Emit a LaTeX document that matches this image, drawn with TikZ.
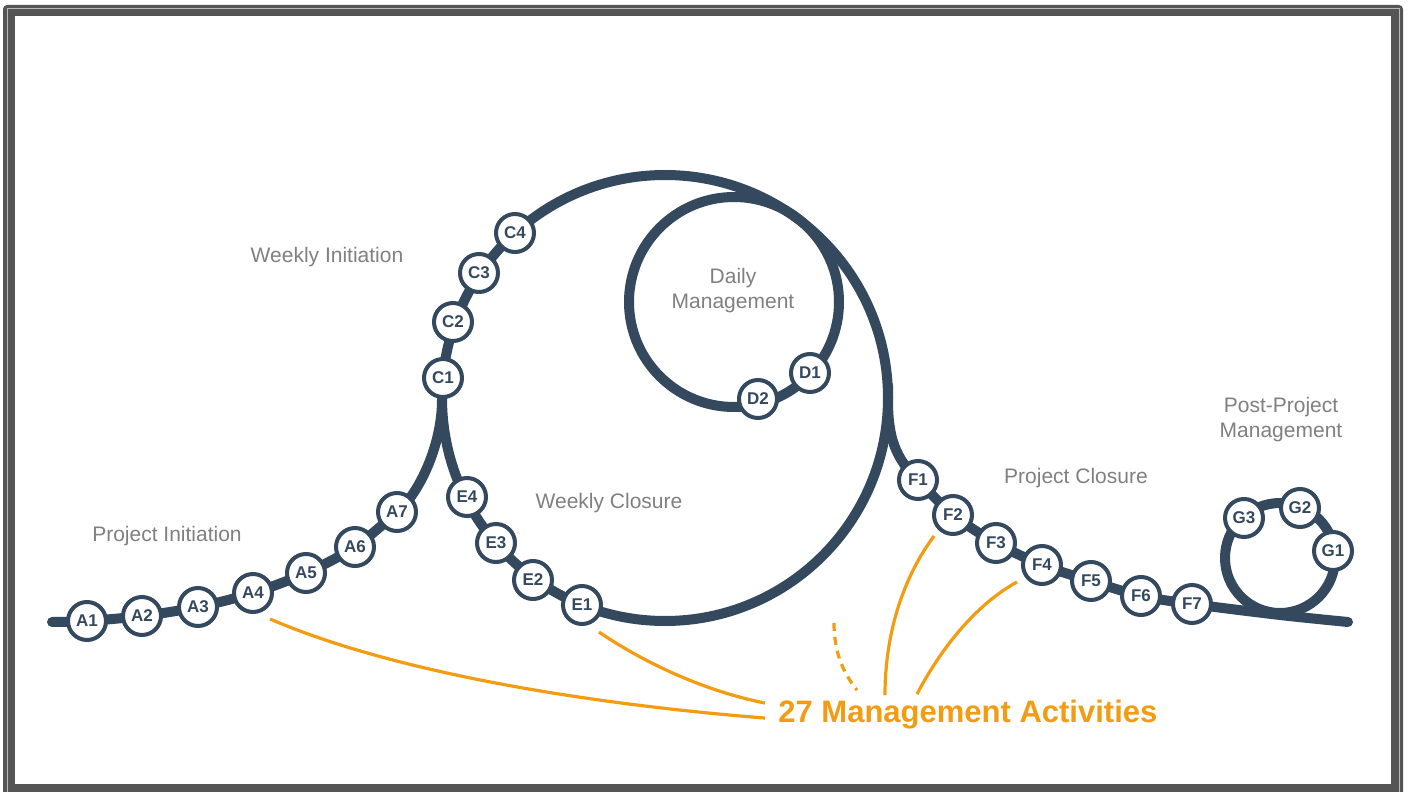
\documentclass[tikz,border=0pt]{standalone}
\usepackage{fontspec}
\setmainfont{Liberation Sans}
\usetikzlibrary{calc,backgrounds}
\definecolor{railblue}{HTML}{34495E}
\definecolor{leadorange}{HTML}{F39C12}
\definecolor{phasegray}{HTML}{808080}
\definecolor{framegray}{HTML}{555555}
\tikzset{
    stop/.style={circle,draw=railblue,line width=2pt,fill=white,minimum size=19pt,inner sep=0pt,text=railblue,font=\fontsize{8.5}{10}\selectfont\bfseries},
    rail/.style={railblue,line width=5pt,line cap=round},
    phase/.style={phasegray,align=center,font=\fontsize{10.5}{12.5}\selectfont},
    lead/.style={leadorange,line width=1.6pt},
}
\begin{document}
\begin{tikzpicture}[x=0.5pt,y=-0.5pt]
    \useasboundingbox (0,0) rectangle (1410,792);
    \foreach \n/\x/\y in {A1/87/621,A2/142/616,A3/198/607,A4/253/593,A5/306/573,A6/355/547,A7/397/512,
        C1/443/378,C2/453/322,C3/479/273,C4/515/233,D1/810/373,D2/758/399,
        E1/582/605,E2/533/580,E3/496/543,E4/467/497,
        F1/918/480,F2/953/515,F3/996/543,F4/1042/565,F5/1091/581,F6/1141/596,F7/1192/604,
        G1/1333/551,G2/1300/508,G3/1244/518}
    {
        \node[stop] (\n) at (\x,\y) {\n};
    }
    \begin{scope}[on background layer]
        \fill[framegray,rounded corners=2pt] (3,5) rectangle (1403,800);
        \draw[gray!55,line width=0.5pt] (7,9) rectangle (1399,800);
        \fill[white] (15,16) rectangle (1391,784);
        \draw[rail] (665,398) circle (223);
        \draw[rail] (734,302) circle (105);
        \draw[rail] (1280,558) circle (55);
        \draw[rail] plot[smooth,tension=0.5] coordinates {(52,622) (A1.center) (A2.center) (A3.center) (A4.center) (A5.center) (A6.center) (A7.center)};
        \draw[rail] (A7.center) .. controls (419,494) and (442,445) .. (442,400);
        \draw[rail] (888,385) -- (888,400) .. controls (888,437) and (895,458) .. (F1.center);
        \draw[rail] plot[smooth,tension=0.5] coordinates {(F1.center) (F2.center) (F3.center) (F4.center) (F5.center) (F6.center) (F7.center) (1280,615) (1348,622)};
    \end{scope}
    \node[phase] (wkinit) at (327,257) {Weekly Initiation};
    \node[phase] (prinit) at (167,536) {Project Initiation};
    \node[phase] (daily) at (733,291) {Daily\\Management};
    \node[phase] (wkclose) at (609,503) {Weekly Closure};
    \node[phase] (prclose) at (1076,478) {Project Closure};
    \node[phase] (post) at (1281,420) {Post-Project\\Management};
    \node[leadorange,anchor=base west,inner sep=0pt,font=\fontsize{15.5}{18}\selectfont\bfseries] (act) at (778,722) {27 Management Activities};
    \coordinate (more) at (834,623);
    \draw[lead] ($(A4)+(17,26)$) .. controls (400,675) and (600,705) .. ($(act.west)+(-13,4)$);
    \draw[lead] ($(E1)+(17,27)$) .. controls (640,660) and (700,690) .. ($(act.west)+(-13,-11)$);
    \draw[lead,dash pattern=on 4pt off 3pt] (more) .. controls (834,655) and (845,675) .. ($(act.north west)+(79,-9)$);
    \draw[lead] ($(F2)+(-19,21)$) .. controls (905,575) and (885,630) .. ($(act.north west)+(107,-4)$);
    \draw[lead] ($(F4)+(-25,17)$) .. controls (975,605) and (940,650) .. ($(act.north west)+(139,-5)$);
\end{tikzpicture}
\end{document}
